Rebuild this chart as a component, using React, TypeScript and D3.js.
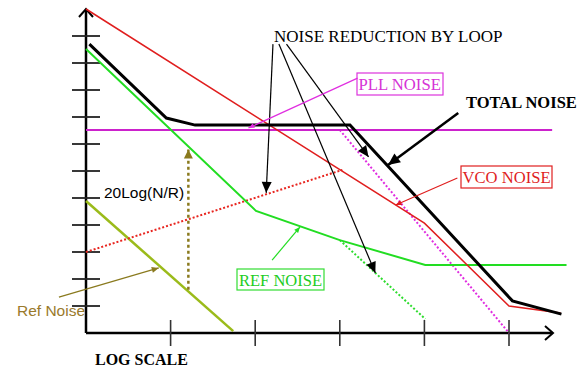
import * as d3 from "d3";

const W = 586;
const H = 373;

// axis ticks (log-scale decades, arbitrary dB steps)
const xTicks = [1, 2, 3, 4, 5];
const yTicks = [1, 2, 3, 4, 5, 6, 7, 8, 9, 10, 11];

// noise curves as [x, y] in chart units
const vcoNoise: [number, number][] = [[0, 12], [4, 4.07], [5, 1], [5.61, 0.74]];
const totalNoise: [number, number][] = [[0.04, 10.7], [0.95, 7.96], [1.29, 7.7], [3.12, 7.7], [5.04, 1.19], [5.62, 0.7]];
const pllNoise: [number, number][] = [[0, 7.52], [5.51, 7.52]];
const pllReduced: [number, number][] = [[3, 7.52], [5, 0]];
const refNoiseCurve: [number, number][] = [[0, 10.52], [2.01, 4.52], [3, 3.44], [4.01, 2.52], [5.68, 2.52]];
const refReduced: [number, number][] = [[3, 3.44], [4.01, 0.52]];
const refOsc: [number, number][] = [[0, 4.89], [1.74, 0.07]];
const vcoReduction: [number, number][] = [[0, 3], [3.03, 6.04]];
const nrGain: [number, number][] = [[1.21, 1.6], [1.21, 6.8]];

// annotation arrows [from, to]
const loopArrows: [number, number][][] = [
  [[2.21, 10.7], [2.13, 5.19]],
  [[2.28, 10.7], [3.42, 2.22]],
  [[2.37, 10.7], [3.34, 6.52]],
];
const pllArrow: [number, number][] = [[3.21, 9.44], [1.92, 7.59]];
const totalArrow: [number, number][] = [[4.4, 8.15], [3.57, 6.22]];
const vcoArrow: [number, number][] = [[4.39, 5.74], [3.66, 4.74]];
const refArrow: [number, number][] = [[2.2, 2.7], [2.53, 3.93]];
const refOscArrow: [number, number][] = [[-0.32, 1.33], [0.86, 2.41]];

const x = d3.scaleLinear().domain([0, 5]).range([86, 509]);
const y = d3.scaleLinear().domain([0, 11]).range([333, 36]);

const line = d3
  .line<[number, number]>()
  .x((d) => x(d[0]))
  .y((d) => y(d[1]));

const SERIF = "'Liberation Serif', 'Times New Roman', serif";
const SANS = "'Liberation Sans', Arial, sans-serif";

function head(p: [number, number][], len: number, wid: number) {
  const x1 = x(p[0][0]);
  const y1 = y(p[0][1]);
  const x2 = x(p[1][0]);
  const y2 = y(p[1][1]);
  const a = Math.atan2(y2 - y1, x2 - x1);
  const bx = x2 - len * Math.cos(a);
  const by = y2 - len * Math.sin(a);
  const nx = -Math.sin(a) * (wid / 2);
  const ny = Math.cos(a) * (wid / 2);
  return `${x2},${y2} ${bx + nx},${by + ny} ${bx - nx},${by - ny}`;
}

function Arrow(props: { p: [number, number][]; color: string; sw: number; len: number; wid: number }) {
  const { p, color, sw, len, wid } = props;
  return (
    <g>
      <path d={line(p) || ""} stroke={color} strokeWidth={sw} fill="none" />
      <polygon points={head(p, len, wid)} fill={color} />
    </g>
  );
}

export default function App() {
  const x0 = x(0);
  const y0 = y(0);
  const yTop = 9;
  const xEnd = 553;
  return (
    <svg width={W} height={H} style={{ position: "absolute", left: 0, top: 0, background: "#fff" }}>
      {/* axes */}
      <g stroke="#000" fill="none">
        <line x1={x0} y1={y0} x2={x0} y2={yTop + 1} strokeWidth={2.5} />
        <polyline points={`${x0 - 7},${yTop + 8} ${x0},${yTop} ${x0 + 7},${yTop + 8}`} strokeWidth={2} />
        <line x1={x0} y1={y0} x2={xEnd - 1} y2={y0} strokeWidth={2.5} />
        <polyline points={`${xEnd - 8},${y0 - 7} ${xEnd},${y0} ${xEnd - 8},${y0 + 7}`} strokeWidth={2} />
        {yTicks.map((t) => (
          <line key={"y" + t} x1={72} x2={100} y1={y(t)} y2={y(t)} strokeWidth={1.8} stroke="#222" />
        ))}
        {xTicks.map((t) => (
          <line key={"x" + t} x1={x(t)} x2={x(t)} y1={y0 - 13} y2={y0 + 13} strokeWidth={1.6} stroke="#333" />
        ))}
      </g>

      {/* curves */}
      <path d={line(refOsc) || ""} stroke="#9bbb1a" strokeWidth={2.5} fill="none" />
      <path d={line(vcoReduction) || ""} stroke="#e8251f" strokeWidth={2} strokeDasharray="2 2" fill="none" />
      <path d={line(refReduced) || ""} stroke="#2edc2e" strokeWidth={2} strokeDasharray="2 2" fill="none" />
      <path d={line(pllReduced) || ""} stroke="#e02ee0" strokeWidth={2} strokeDasharray="2 2" fill="none" />
      <path d={line(pllNoise) || ""} stroke="#cc22cc" strokeWidth={2} fill="none" />
      <path d={line(refNoiseCurve) || ""} stroke="#22dd22" strokeWidth={2} fill="none" />
      <path d={line(vcoNoise) || ""} stroke="#e01e1e" strokeWidth={1.5} fill="none" />
      <path d={line(totalNoise) || ""} stroke="#000" strokeWidth={3} fill="none" />

      {/* 20Log(N/R) dotted arrow */}
      <path d={line(nrGain) || ""} stroke="#8a7a1e" strokeWidth={2.5} strokeDasharray="3 3" fill="none" />
      <polygon points={head(nrGain, 9, 9)} fill="#8a7a1e" />

      {/* annotation arrows */}
      {loopArrows.map((p, i) => (
        <Arrow key={i} p={p} color="#000" sw={1.2} len={11} wid={10} />
      ))}
      <Arrow p={pllArrow} color="#e02ee0" sw={1.2} len={6} wid={5} />
      <Arrow p={totalArrow} color="#000" sw={2.5} len={12} wid={11} />
      <Arrow p={vcoArrow} color="#e01e1e" sw={1.2} len={6} wid={5} />
      <Arrow p={refArrow} color="#22dd22" sw={1.2} len={6} wid={5} />
      <Arrow p={refOscArrow} color="#8a7a1e" sw={1.2} len={7} wid={6} />

      {/* labels */}
      <text x={274} y={42} fontFamily={SERIF} fontSize={17} fill="#000">NOISE REDUCTION BY LOOP</text>
      <rect x={357} y={73} width={86} height={22} fill="none" stroke="#dd33dd" strokeWidth={1.2} />
      <text x={358.5} y={89.5} fontFamily={SERIF} fontSize={16.7} fill="#d633d6">PLL NOISE</text>
      <text x={466} y={108} fontFamily={SERIF} fontSize={16.5} fontWeight="bold" fill="#000">TOTAL NOISE</text>
      <rect x={461} y={166} width={91} height={22} fill="none" stroke="#e01e1e" strokeWidth={1.2} />
      <text x={462.5} y={183} fontFamily={SERIF} fontSize={16.6} fill="#e01e1e">VCO NOISE</text>
      <rect x={237} y={269} width={87} height={21} fill="none" stroke="#33dd33" strokeWidth={1.2} />
      <text x={239} y={286} fontFamily={SERIF} fontSize={16.5} fill="#22cc22">REF NOISE</text>
      <text x={104} y={198} fontFamily={SANS} fontSize={15.5} fill="#000">20Log(N/R)</text>
      <text x={17} y={316} fontFamily={SANS} fontSize={15.5} fill="#9a7a2c">Ref Noise</text>
      <text x={95} y={365} fontFamily={SERIF} fontSize={16} fontWeight="bold" fill="#000">LOG SCALE</text>
    </svg>
  );
}
